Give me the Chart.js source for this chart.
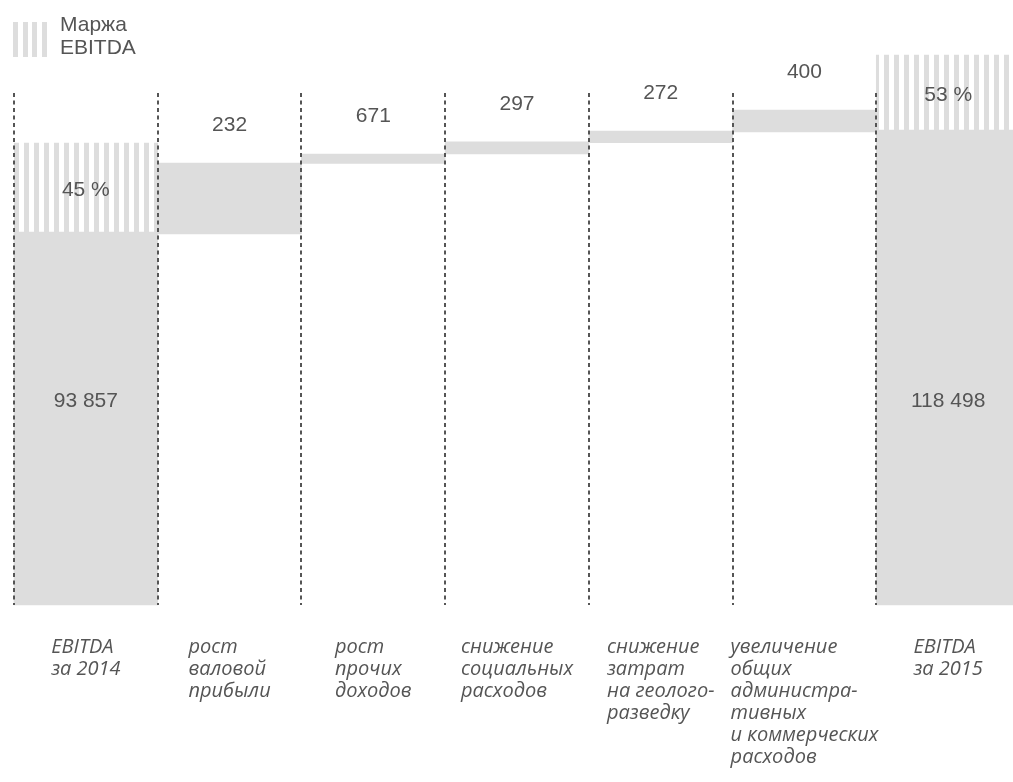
<!DOCTYPE html>
<html lang="ru">
<head>
<meta charset="utf-8">
<title>EBITDA 2014–2015</title>
<script src="https://cdn.jsdelivr.net/npm/chart.js@4.4.1/dist/chart.umd.min.js"></script>
<style>
  html, body { margin: 0; padding: 0; background: #fff; overflow: hidden; }
  #wrap { position: relative; width: 1020px; height: 782px; }
  #legend {
    position: absolute; left: 13px; top: 12px; display: flex;
    font: 21px "Liberation Sans", Arial, sans-serif; line-height: 23.4px; color: #555;
  }
  #legend .box {
    width: 34px; height: 35px; margin-top: 10px; margin-right: 13px;
    background: repeating-linear-gradient(to right, #ddd 0 5px, transparent 5px 9.67px);
  }
</style>
</head>
<body>
<div id="wrap">
  <canvas id="chart" width="1020" height="782"></canvas>
  <div id="legend"><div class="box"></div><div>Маржа<br>EBITDA</div></div>
</div>
<script>
const categories = [
    ['EBITDA', 'за 2014'],
    ['рост', 'валовой', 'прибыли'],
    ['рост', 'прочих', 'доходов'],
    ['снижение', 'социальных', 'расходов'],
    ['снижение', 'затрат', 'на геолого-', 'разведку'],
    ['увеличение', 'общих', 'администра-', 'тивных', 'и коммерческих', 'расходов'],
    ['EBITDA', 'за 2015'],
];
const valueLabels = ['93 857', '232', '671', '297', '272', '400', '118 498'];
const barStart = [0, 92750, 110400, 112800, 115600, 118300, 0];
const barEnd = [93200, 110500, 112750, 115800, 118500, 123750, 118750];
const marginStart = [93200, null, null, null, null, null, 118750];
const marginEnd = [115500, null, null, null, null, null, 137500];
const marginLabels = ['45 %', '', '', '', '', '', '53 %'];
const totalLabelLevel = 51000;

const canvas = document.getElementById('chart');
const ctx = canvas.getContext('2d');

// vertical stripes for the margin bars
const tile = document.createElement('canvas');
tile.width = 10;
tile.height = 10;
const tctx = tile.getContext('2d');
tctx.fillStyle = '#dddddd';
tctx.fillRect(4, 0, 5, 10);
const stripes = ctx.createPattern(tile, 'repeat');

const labelPlugin = {
    id: 'waterfallLabels',
    afterDraw(chart) {
        const { ctx, scales: { x, y } } = chart;
        ctx.save();
        ctx.fillStyle = '#555';
        ctx.font = '21px "Liberation Sans", Arial, sans-serif';
        ctx.textAlign = 'center';
        ctx.textBaseline = 'middle';
        valueLabels.forEach((t, i) => {
            const cx = x.getPixelForValue(i);
            const cy = barStart[i] === 0
                ? y.getPixelForValue(totalLabelLevel)
                : y.getPixelForValue(barEnd[i]) - 38;
            ctx.fillText(t, cx, cy);
            if (marginLabels[i]) {
                const my = (y.getPixelForValue(marginStart[i]) + y.getPixelForValue(marginEnd[i])) / 2;
                ctx.fillText(marginLabels[i], cx, my + 3);
            }
        });

        ctx.font = 'italic 20px "Open Sans", sans-serif';
        ctx.textAlign = 'left';
        ctx.textBaseline = 'alphabetic';
        categories.forEach((lines, i) => {
            const w = Math.max(...lines.map(l => ctx.measureText(l).width));
            const left = x.getPixelForValue(i) - w / 2;
            lines.forEach((l, j) => ctx.fillText(l, left, x.bottom + 48 + j * 22));
        });
        ctx.restore();
    }
};

new Chart(ctx, {
    type: 'bar',
    data: {
        labels: categories,
        datasets: [{
            label: 'EBITDA',
            data: barStart.map((s, i) => [s, barEnd[i]]),
            backgroundColor: '#dddddd',
        }, {
            label: 'Маржа EBITDA',
            data: marginStart.map((s, i) => s === null ? null : [s, marginEnd[i]]),
            backgroundColor: stripes,
        }]
    },
    options: {
        responsive: false,
        animation: false,
        layout: { padding: { left: 14, right: 0, top: 93, bottom: 177 } },
        datasets: {
            bar: {
                grouped: false,
                barPercentage: 1,
                categoryPercentage: 1,
                borderWidth: 0,
                clip: false,
            }
        },
        plugins: {
            legend: { display: false },
            tooltip: { enabled: false },
        },
        scales: {
            x: {
                grid: { z: 1, offset: true, color: '#555', lineWidth: 2, drawTicks: false },
                border: { display: false, dash: [4, 3.5] },
                ticks: { display: false },
            },
            y: { display: false, min: 0, max: 128000 }
        }
    },
    plugins: [labelPlugin]
});
</script>
</body>
</html>
